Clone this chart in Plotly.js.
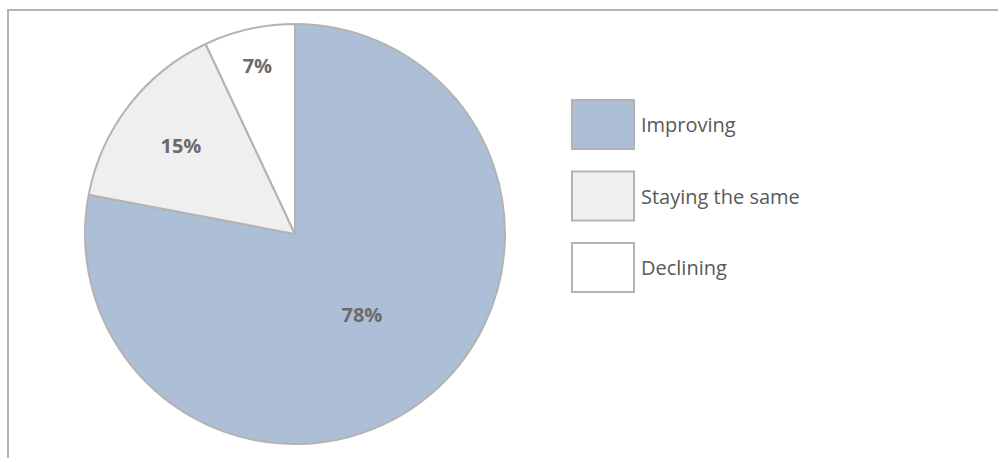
<!DOCTYPE html>
<html>
<head>
<meta charset="utf-8">
<script src="https://cdn.plot.ly/plotly-3.0.1.min.js"></script>
<style>html,body{margin:0;padding:0;background:#fff;}#chart{width:998px;height:458px;}</style>
</head>
<body>
<div id="chart"></div>
<script>
var categories = ["Improving", "Staying the same", "Declining"];
var values = [78, 15, 7];
var sliceColors = ["#adbfd6", "#efefef", "#ffffff"];

var W = 998, H = 458;
var px = function (x) { return x / W; };
var py = function (y) { return 1 - y / H; };

var trace = {
  type: "pie",
  labels: categories,
  values: values,
  sort: false,
  direction: "clockwise",
  rotation: 0,
  marker: { colors: sliceColors, line: { color: "#b3b3b3", width: 2 } },
  texttemplate: "%{value}%",
  textposition: "inside",
  insidetextorientation: "horizontal",
  textfont: { family: "Open Sans", size: 20, color: "#6b6b6b", weight: "bold" },
  hoverinfo: "label+percent",
  domain: { x: [px(85), px(505)], y: [py(444), py(24)] },
  showlegend: false
};

var shapes = [{
  type: "rect", xref: "paper", yref: "paper",
  x0: px(8), x1: px(1010), y0: py(470), y1: py(10),
  line: { color: "#b3b3b3", width: 2 }, fillcolor: "rgba(0,0,0,0)"
}];
var annotations = [];
var boxTop = 100, boxH = 49, step = 71.5;
categories.forEach(function (c, i) {
  var t = boxTop + i * step;
  shapes.push({
    type: "rect", xref: "paper", yref: "paper",
    x0: px(572), x1: px(634), y0: py(t + boxH), y1: py(t),
    line: { color: "#b3b3b3", width: 2 }, fillcolor: sliceColors[i]
  });
  annotations.push({
    xref: "paper", yref: "paper", x: px(639), y: py(t + boxH / 2),
    xanchor: "left", yanchor: "middle", showarrow: false, text: c,
    font: { family: "Open Sans", size: 20, color: "#595959" }
  });
});

var layout = {
  width: W, height: H,
  margin: { l: 0, r: 0, t: 0, b: 0 },
  paper_bgcolor: "#ffffff",
  showlegend: false,
  shapes: shapes,
  annotations: annotations
};

Plotly.newPlot("chart", [trace], layout, { displayModeBar: false, staticPlot: true });
</script>
</body>
</html>
